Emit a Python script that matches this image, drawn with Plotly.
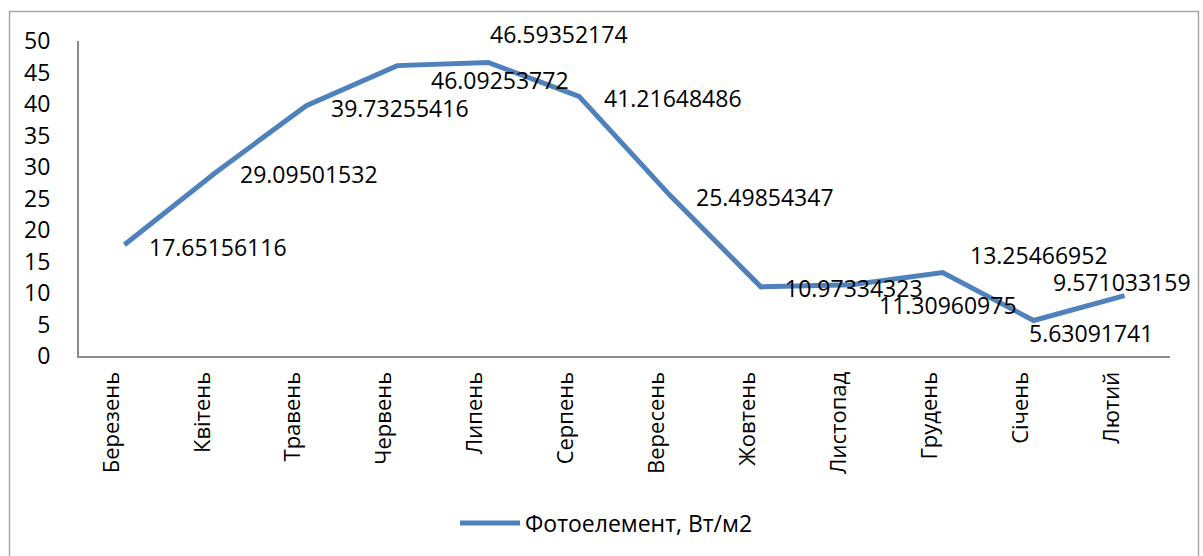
import plotly.graph_objects as go

# Monthly photo-cell irradiance, W/m2
months = ["Березень", "Квітень", "Травень", "Червень", "Липень", "Серпень",
          "Вересень", "Жовтень", "Листопад", "Грудень", "Січень", "Лютий"]
values = [17.65156116, 29.09501532, 39.73255416, 46.09253772, 46.59352174,
          41.21648486, 25.49854347, 10.97334323, 11.30960975, 13.25466952,
          5.63091741, 9.571033159]
label_texts = ["17.65156116", "29.09501532", "39.73255416", "46.09253772",
               "46.59352174", "41.21648486", "25.49854347", "10.97334323",
               "11.30960975", "13.25466952", "5.63091741", "9.571033159"]
series_name = "Фотоелемент, Вт/м2"

# label placement (pixels): shift of label's left edge from the point, and vertical shift (down +)
label_dx = [23, 23, 23, 32, 0, 23, 24, 22, 25, 25, -7, -74]
label_dy = [2, 1, 2, 14, -28, 2, 2, 1, 20, -18, 12, -14]

FONT = "Open Sans"
BLUE = "#4F81BD"
AXIS = "#8C8C8C"

fig = go.Figure()
fig.add_trace(go.Scatter(
    x=months, y=values, mode="lines", name=series_name,
    line=dict(color=BLUE, width=5, shape="linear"),
    hoverinfo="x+y",
))

annotations = []
for m, v, t, dx, dy in zip(months, values, label_texts, label_dx, label_dy):
    annotations.append(dict(
        x=m, y=v, xref="x", yref="y", text=t, showarrow=False,
        xanchor="left", yanchor="middle", xshift=dx, yshift=-dy,
        font=dict(family=FONT, size=23, color="#000000"),
    ))

W, H = 1203, 556
L, R, T, B = 79, 33, 41, 200
pw, ph = W - L - R, H - T - B


def px_x(p):
    return (p - L) / pw


def px_y(p):
    return (H - B - p) / ph


fig.update_layout(
    width=W, height=H,
    margin=dict(l=L, r=R, t=T, b=B, pad=0),
    paper_bgcolor="white", plot_bgcolor="white",
    font=dict(family=FONT, size=23, color="#000000"),
    showlegend=True,
    legend=dict(orientation="h", x=px_x(455), y=px_y(523), xanchor="left", yanchor="middle",
                itemwidth=60,
                font=dict(family=FONT, size=23), bgcolor="rgba(0,0,0,0)"),
    xaxis=dict(type="category", range=[-0.5, len(months) - 0.5], showgrid=False,
               showline=True, linecolor=AXIS, linewidth=2, ticks="", tickangle=-90,
               ticklabelstandoff=5, ticklabelshift=-13,
               tickfont=dict(family=FONT, size=22), zeroline=False),
    yaxis=dict(range=[0, 50], dtick=5, showgrid=False, showline=True, linecolor=AXIS,
               linewidth=2, ticks="", ticklabelstandoff=22, zeroline=False,
               tickfont=dict(family=FONT, size=23)),
    annotations=annotations,
    shapes=[dict(type="rect", xref="paper", yref="paper",
                 x0=px_x(9.5), x1=px_x(1198.5), y0=px_y(560), y1=px_y(11.5),
                 line=dict(color="#A6A6A6", width=1.5), fillcolor="rgba(0,0,0,0)",
                 layer="below")],
)

fig.write_html("out.html")
